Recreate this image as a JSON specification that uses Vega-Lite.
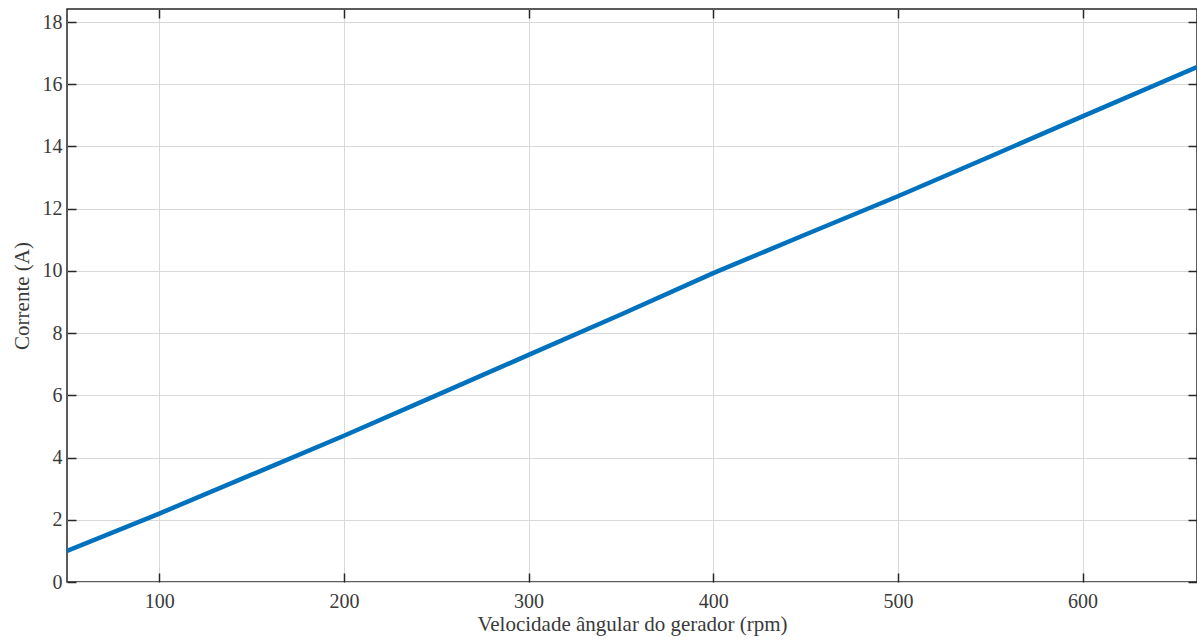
{
  "$schema": "https://vega.github.io/schema/vega-lite/v6.json",
  "autosize": "none",
  "width": 1130,
  "height": 573,
  "padding": {"left": 67, "top": 9, "right": 0, "bottom": 62},
  "background": "white",
  "config": {
    "view": {"stroke": "#262626", "strokeWidth": 1.5},
    "font": "Liberation Serif",
    "axis": {
      "labelFont": "Liberation Serif",
      "titleFont": "Liberation Serif",
      "labelFontSize": 20,
      "titleFontSize": 21,
      "labelColor": "#3a3a3a",
      "titleColor": "#3a3a3a",
      "titleFontWeight": "normal",
      "domain": false,
      "tickColor": "#262626",
      "tickWidth": 1.5,
      "tickSize": -9,
      "gridColor": "#d9d9d9",
      "gridWidth": 1
    }
  },
  "data": {
    "values": [
      {"rpm": 50, "corrente": 1.0},
      {"rpm": 100, "corrente": 2.2},
      {"rpm": 150, "corrente": 3.45},
      {"rpm": 200, "corrente": 4.7},
      {"rpm": 250, "corrente": 6.0},
      {"rpm": 300, "corrente": 7.3},
      {"rpm": 350, "corrente": 8.6},
      {"rpm": 400, "corrente": 9.93},
      {"rpm": 450, "corrente": 11.17},
      {"rpm": 500, "corrente": 12.4},
      {"rpm": 550, "corrente": 13.68},
      {"rpm": 600, "corrente": 14.97},
      {"rpm": 662, "corrente": 16.55}
    ]
  },
  "layer": [
    {
      "mark": {"type": "line", "color": "#0072BD", "strokeWidth": 4.5, "clip": true},
      "encoding": {
        "x": {
          "field": "rpm", "type": "quantitative",
          "scale": {"domain": [50, 662], "nice": false, "zero": false},
          "axis": {"values": [100, 200, 300, 400, 500, 600], "title": "Velocidade ângular do gerador (rpm)", "labelPadding": 18, "titlePadding": 2}
        },
        "y": {
          "field": "corrente", "type": "quantitative",
          "scale": {"domain": [0, 18.42], "nice": false},
          "axis": {"values": [0, 2, 4, 6, 8, 10, 12, 14, 16, 18], "title": "Corrente (A)", "labelPadding": 14, "titlePadding": 10}
        }
      }
    },
    {
      "mark": {"type": "line", "opacity": 0},
      "encoding": {
        "x": {
          "field": "rpm", "type": "quantitative",
          "scale": {"domain": [50, 662], "nice": false, "zero": false},
          "axis": {"orient": "top", "values": [100, 200, 300, 400, 500, 600], "labels": false, "grid": false, "title": null}
        },
        "y": {
          "field": "corrente", "type": "quantitative",
          "scale": {"domain": [0, 18.42], "nice": false},
          "axis": {"orient": "right", "values": [0, 2, 4, 6, 8, 10, 12, 14, 16, 18], "labels": false, "grid": false, "title": null}
        }
      }
    }
  ],
  "resolve": {"axis": {"x": "independent", "y": "independent"}}
}
